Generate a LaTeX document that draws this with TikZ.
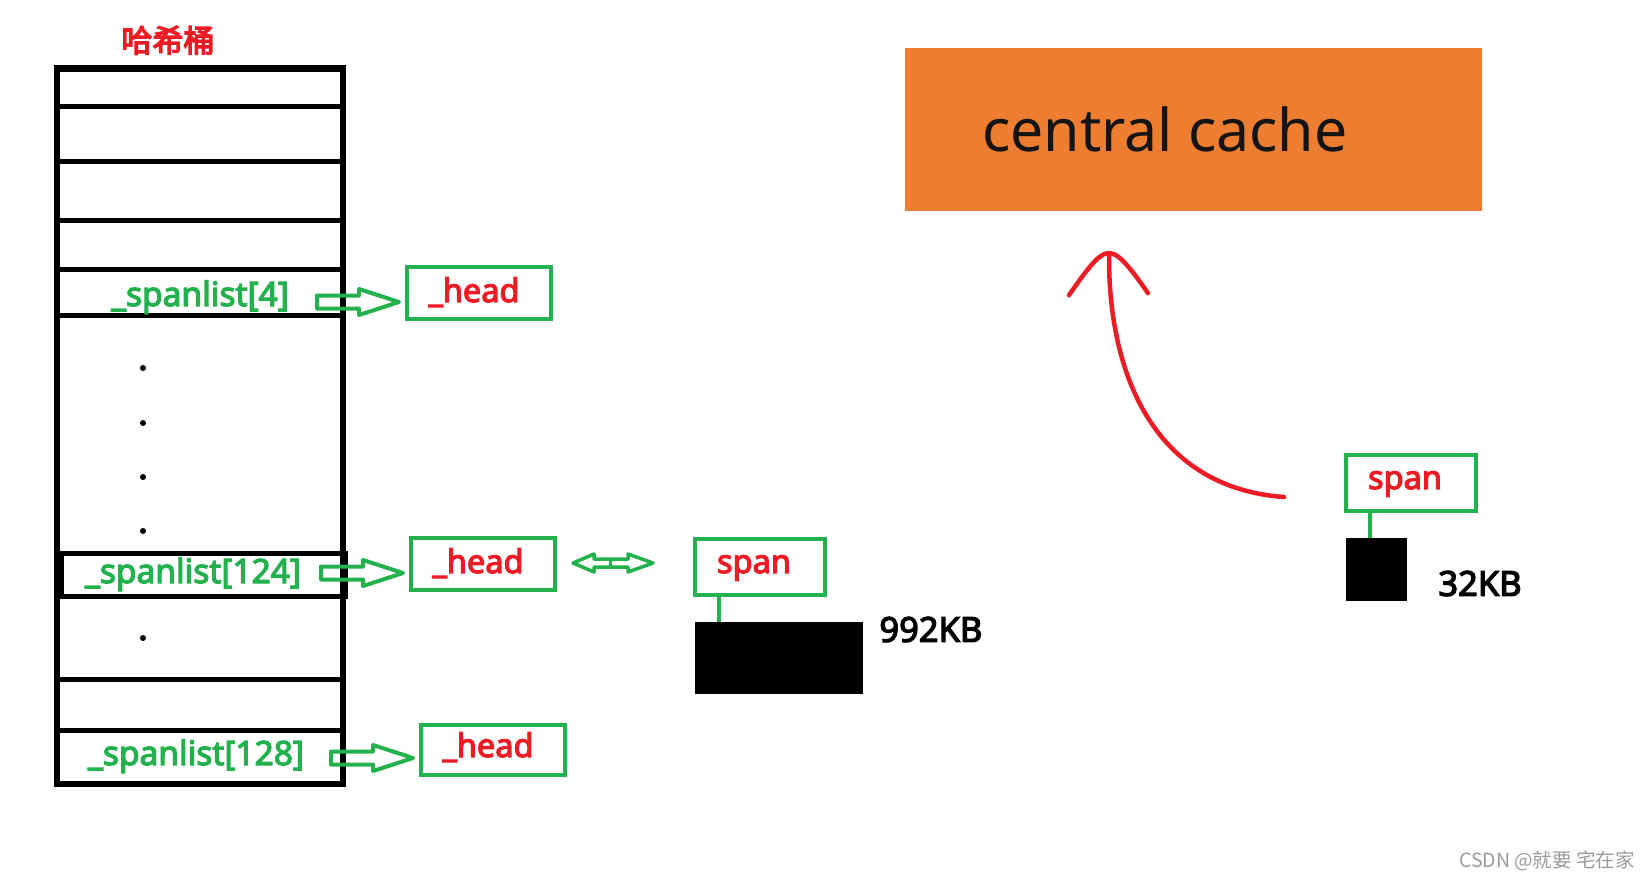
\documentclass[tikz,border=0pt]{standalone}
\usepackage{fontspec}
\setmainfont{Noto Sans}
\newfontfamily\cjk{Noto Sans CJK SC}
\newfontfamily\cjkb{Noto Sans CJK SC}[FakeBold=4.5]
\newfontfamily\lblb{Noto Sans}[FakeBold=3.6]
\usetikzlibrary{calc}
\definecolor{pgreen}{HTML}{22B14C}
\definecolor{pred}{HTML}{ED1C24}
\definecolor{porange}{HTML}{ED7D31}
\definecolor{wmgray}{HTML}{9A9A9A}
\newcommand\hollowarrow[1]{%
  \draw[harrow] #1 -- ++(-40,-13) -- ++(0,6.5) -- ++(-42,0) -- ++(0,13) -- ++(42,0) -- ++(0,6.5) -- cycle;}
\begin{document}
\begin{tikzpicture}[x=1pt,y=-1pt,
  headbox/.style={draw=pgreen, line width=4pt, minimum width=144pt, minimum height=52pt, inner sep=0pt},
  spanbox/.style={draw=pgreen, line width=4pt, minimum width=130pt, minimum height=56pt, inner sep=0pt},
  blk/.style={fill=black, inner sep=0pt},
  redlbl/.style={text=pred, font=\lblb\fontsize{32.5}{38}\selectfont, inner sep=0pt, anchor=base},
  grnlbl/.style={text=pgreen, font=\lblb\fontsize{33.5}{38}\selectfont, inner sep=0pt, anchor=base},
  kblbl/.style={text=black, font=\lblb\fontsize{34.5}{40}\selectfont, inner sep=0pt, anchor=base west},
  harrow/.style={draw=pgreen, line width=4pt, line join=round},
  frame/.style={line width=6pt},
  rowline/.style={line width=5pt},
  conn/.style={draw=pgreen, line width=4pt},
  redline/.style={draw=pred, line width=4.5pt, line cap=round}]
\useasboundingbox (0,0) rectangle (1649,879);
% title
\node[text=pred, font=\cjkb\fontsize{31}{36}\selectfont, inner sep=0pt, anchor=base] (title) at (168,52) {哈希桶};
% table
\draw[frame] (57,68) rectangle (343,784);
\draw[line width=7pt] (54,68) -- (346,68);
\foreach \yy in {106,161,220,269,315,679,730} \draw[rowline] (57,\yy) -- (343,\yy);
\draw[rowline] (61,553) rectangle (345,596);
\foreach \yy in {368,423,477,531,638} \fill (143,\yy) circle (3);
% row labels
\node[grnlbl] (sl4) at (200,306) {\_spanlist[4]};
\node[grnlbl] (sl124) at (193,583) {\_spanlist[124]};
\node[grnlbl] (sl128) at (196,765) {\_spanlist[128]};
% head boxes
\node[headbox] (h1) at (479,293) {};
\node[headbox] (h2) at (483,564) {};
\node[headbox, minimum height=50pt] (h3) at (493,750) {};
\node[redlbl] (h1t) at ($(h1.center)+(-5,9)$) {\_head};
\node[redlbl] (h2t) at ($(h2.center)+(-5,9)$) {\_head};
\node[redlbl] (h3t) at ($(h3.center)+(-5,7)$) {\_head};
% block arrows
\hollowarrow{($(h1.west)+(-6,9)$)}
\hollowarrow{($(h2.west)+(-6,9)$)}
\hollowarrow{($(h3.west)+(-6,8)$)}
% span 1
\node[spanbox] (s1) at (760,567) {};
\node[redlbl] (s1t) at ($(s1.center)+(-6,6)$) {span};
\node[blk, minimum width=168pt, minimum height=72pt] (b1) at (779,658) {};
\draw[conn] ($(b1.north west)+(24,0)$) -- ($(b1.north west)+(24,-27)$);
\node[kblbl] (k1) at ($(b1.north east)+(16,20)$) {992KB};
% double arrow between h2 and s1
\coordinate (dl) at ($(h2.east)+(16,-1)$);
\draw[harrow, line width=3.5pt] (dl) -- ++(21,-9) -- ++(0,5) -- ++(34,0) -- ++(0,-5) -- ++(25,9) -- ++(-25,9) -- ++(0,-5) -- ++(-34,0) -- ++(0,5) -- cycle;
\draw[draw=pgreen, line width=3pt] ($(dl)+(37,-4)$) -- ($(dl)+(37,4)$);
% span 2
\node[spanbox] (s2) at (1411,483) {};
\node[redlbl] (s2t) at ($(s2.center)+(-6,6)$) {span};
\node[blk, minimum width=61pt, minimum height=63pt] (b2) at (1376.5,569.5) {};
\draw[conn] ($(b2.north west)+(24,0)$) -- ($(b2.north west)+(24,-27)$);
\node[kblbl] (k2) at ($(b2.north east)+(31,58)$) {32KB};
% central cache
\node[fill=porange, minimum width=577pt, minimum height=163pt, inner sep=0pt] (cc) at (1193.5,129.5) {};
\node[font=\fontsize{59}{66}\selectfont, text=black!92, inner sep=0pt, anchor=base west] (cct) at ($(cc.west)+(77,21.5)$) {central cache};
% red curved arrow
\coordinate (rs) at ($(s2.west)+(-60,14)$);
\coordinate (rt) at ($(cc.south)+(-84.5,42)$);
\draw[redline] (rs) .. controls ($(rs)+(-126,-9)$) and ($(rt)+(-1,127)$) .. (rt);
\draw[redline, line join=round] ($(rt)+(-40,42)$) .. controls ($(rt)+(-14,4)$) and ($(rt)+(-7,0)$) .. (rt) .. controls ($(rt)+(7,0)$) and ($(rt)+(15,5)$) .. ($(rt)+(39,40)$);
% watermark
\node[text=wmgray, font=\cjk\fontsize{19.5}{22}\selectfont, inner sep=0pt, anchor=base east] (wm) at (1635,867) {CSDN @就要 宅在家};
\end{tikzpicture}
\end{document}
